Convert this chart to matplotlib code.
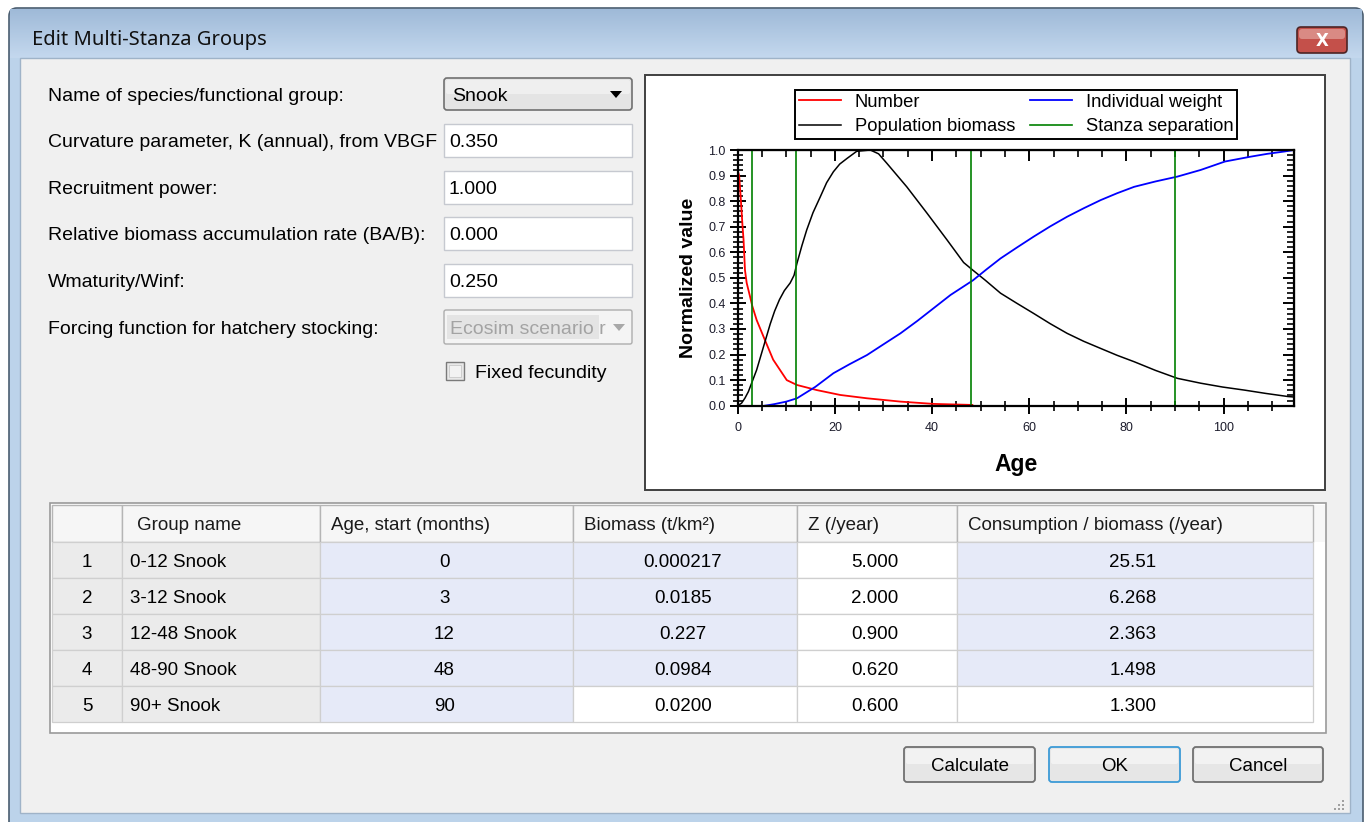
import numpy as np
import matplotlib
matplotlib.use("Agg")
import matplotlib.pyplot as plt
from matplotlib.patches import Rectangle, FancyBboxPatch, Polygon

plt.rcParams['font.family'] = ['Liberation Sans', 'DejaVu Sans']

# ---- form values ----
form_labels = ["Name of species/functional group:",
               "Curvature parameter, K (annual), from VBGF",
               "Recruitment power:",
               "Relative biomass accumulation rate (BA/B):",
               "Wmaturity/Winf:",
               "Forcing function for hatchery stocking:"]
form_values = ["Snook", "0.350", "1.000", "0.000", "0.250", "Ecosim scenario r"]

# ---- table ----
col_headers = ["", "Group name", "Age, start (months)", "Biomass (t/km²)",
               "Z (/year)", "Consumption / biomass (/year)"]
group_names = ["0-12 Snook", "3-12 Snook", "12-48 Snook", "48-90 Snook", "90+ Snook"]
age_start = [0, 3, 12, 48, 90]
biomass = ["0.000217", "0.0185", "0.227", "0.0984", "0.0200"]
z_year = ["5.000", "2.000", "0.900", "0.620", "0.600"]
qb_year = ["25.51", "6.268", "2.363", "1.498", "1.300"]

# ---- curves ----
number_age = [0, 0.3, 0.6, 1.0, 1.2, 1.5, 1.85, 2.5, 3.0, 3.9, 5.6, 7.3, 10.1,
              12.2, 16.3, 21.1, 26.6, 33.5, 40.3, 48.3]
number_val = [0.92, 0.90, 0.82, 0.70, 0.65, 0.53, 0.48, 0.43, 0.39, 0.335, 0.257,
              0.18, 0.10, 0.081, 0.061, 0.042, 0.029, 0.016, 0.007, 0.003]

pop_age = [0, 0.8, 1.5, 2.2, 3.0, 3.9, 5.3, 6.7, 7.6, 8.6, 9.6, 10.8, 11.6, 12.2,
           13.2, 14.2, 15.5, 17, 18.3, 19.7, 21, 22.5, 24.5, 27.3, 29, 30.7, 34.8,
           39, 43.1, 46.5, 48.4, 51, 54.1, 57.5, 60.9, 64.3, 67.8, 71.2, 74.7, 78.1,
           81.6, 86, 90.5, 95.3, 99.8, 104.3, 108.7, 113.2, 114.5]
pop_val = [0, 0.01, 0.03, 0.055, 0.095, 0.14, 0.23, 0.32, 0.37, 0.415, 0.45, 0.48,
           0.51, 0.557, 0.625, 0.687, 0.755, 0.817, 0.872, 0.915, 0.945, 0.967, 0.995,
           1.0, 0.985, 0.948, 0.856, 0.752, 0.648, 0.56, 0.53, 0.49, 0.44, 0.40, 0.361,
           0.321, 0.283, 0.252, 0.224, 0.197, 0.172, 0.138, 0.107, 0.088, 0.073, 0.061,
           0.048, 0.036, 0.034]

weight_age = [5.6, 7.5, 10, 12.2, 16, 19.7, 23, 26.6, 30, 33.5, 37, 40.3, 43.8, 48.4,
              51.2, 54.1, 57.5, 60.9, 64.3, 67.8, 71.2, 74.7, 78.1, 81.6, 86, 90.5,
              95.3, 100.3, 105.6, 109, 112.5, 114.5]
weight_val = [0, 0.006, 0.016, 0.029, 0.074, 0.127, 0.162, 0.198, 0.24, 0.283, 0.332,
              0.381, 0.433, 0.49, 0.533, 0.576, 0.619, 0.661, 0.701, 0.739, 0.772,
              0.804, 0.831, 0.856, 0.877, 0.896, 0.922, 0.955, 0.974, 0.985, 0.994, 1.0]

W, H = 1368, 822
fig = plt.figure(figsize=(W / 100, H / 100), dpi=100)
fig.patch.set_facecolor("white")
bg = fig.add_axes([0, 0, 1, 1])
bg.set_xlim(0, W)
bg.set_ylim(H, 0)
bg.axis("off")


def rect(x0, y0, x1, y1, fc, ec="none", lw=1.0, z=1, rounded=0):
    if rounded:
        p = FancyBboxPatch((x0, y0), x1 - x0, y1 - y0,
                           boxstyle="round,pad=0,rounding_size=%g" % rounded,
                           fc=fc, ec=ec, lw=lw, zorder=z)
    else:
        p = Rectangle((x0, y0), x1 - x0, y1 - y0, fc=fc, ec=ec, lw=lw, zorder=z)
    bg.add_patch(p)
    return p


def label(x, y, s, size=14, ha="left", color="black", **kw):
    # y is the middle of the capital letters (pixels); size in points
    bg.text(x, y + size * 0.5, s, fontsize=size, ha=ha, va="baseline", color=color,
            zorder=10, **kw)


# window frame
rect(9, 8, 1363, 830, "#bcd3ea", "#4a5d70", 1.2, z=0, rounded=8)
grad = np.linspace(0, 1, 50).reshape(-1, 1)
title_cmap = matplotlib.colors.LinearSegmentedColormap.from_list("t", ["#9fbad8", "#c4d8ee"])
bg.imshow(grad, extent=(10, 1362, 58, 9), cmap=title_cmap, aspect="auto", zorder=0.5)
rect(20, 58, 1350, 813, "#f0f0f0", "#9fb3c8", 1, z=1)
bg.text(32, 40, "Edit Multi-Stanza Groups", fontsize=14.5, ha="left", va="center",
        family=["Noto Sans", "DejaVu Sans"], color="#101010", zorder=10)

# close button
rect(1297, 27, 1347, 53, "#c4504a", "#4d2424", 1.2, z=2, rounded=4)
rect(1299, 29, 1345, 39, "#d98a84", "none", z=2.1, rounded=3)
bg.text(1322, 40.5, "X", fontsize=12, fontweight="bold", ha="center", va="center",
        color="white", zorder=10, family="DejaVu Sans")

# form fields
row_y = [94, 140, 187, 233, 280, 327]
for i, (lab, val) in enumerate(zip(form_labels, form_values)):
    y = row_y[i]
    label(48, y, lab)
    if i == 0:
        rect(444, y - 16, 632, y + 16, "#e4e4e4", "#707070", 1.2, z=2, rounded=3)
        rect(446, y - 14, 630, y, "#efefef", "none", z=2.1, rounded=2)
        label(452, y, val)
        bg.add_patch(Polygon([[610, y - 3], [622, y - 3], [616, y + 4]], closed=True,
                             fc="black", ec="none", zorder=10))
    elif i == 5:
        rect(444, y - 17, 632, y + 17, "#f4f4f4", "#adadad", 1.0, z=2, rounded=2)
        rect(447, y - 12, 599, y + 12, "#e4e4e4", "none", z=2.1)
        label(450, y, val, color="#a3a3a3")
        bg.add_patch(Polygon([[613, y - 3], [625, y - 3], [619, y + 4]], closed=True,
                             fc="#a8a8a8", ec="none", zorder=10))
    else:
        rect(444, y - 16, 632, y + 17, "white", "#c6c9d0", 1.0, z=2)
        label(449, y, val)

# checkbox
rect(446, 362, 464, 380, "#e8e8e8", "#7a7a7a", 1.0, z=2)
rect(449, 365, 461, 377, "#f2f2f2", "#c8c8c8", 0.6, z=2.1)
label(475, 371, "Fixed fecundity")

# chart panel
rect(645, 75, 1325, 490, "white", "#404040", 1.4, z=2)

# table
col_x = [52, 122, 320, 573, 797, 957, 1313]
hdr_y0, hdr_y1 = 505, 542
row_h = 36
rect(50, 503, 1326, 733, "white", "#9a9a9a", 1.2, z=2)
rect(51, hdr_y0, 1325, hdr_y1, "#f7f7f7", "none", z=2.1)
lavender = "#e6eaf8"
cell_colors = {2: [lavender] * 5, 3: [lavender] * 4 + ["white"], 4: ["white"] * 5,
               5: [lavender] * 4 + ["white"]}
for c in range(6):
    x0, x1 = col_x[c], col_x[c + 1]
    rect(x0, hdr_y0, x1, hdr_y1, "#f6f6f6", "#b5b5b5", 1.0, z=3)
    if col_headers[c]:
        label(x0 + 11 if c > 1 else x0 + 15, (hdr_y0 + hdr_y1) / 2, col_headers[c],
              size=13.5, color="#1a1a1a")
    for r in range(5):
        y0 = hdr_y1 + r * row_h
        fc = "#ebebeb" if c < 2 else cell_colors[c][r]
        rect(x0, y0, x1, y0 + row_h, fc, "#cfcfcf", 0.9, z=3)

cols_text = [[str(i + 1) for i in range(5)], group_names, [str(a) for a in age_start],
             biomass, z_year, qb_year]
for c, vals in enumerate(cols_text):
    for r, v in enumerate(vals):
        yc = hdr_y1 + r * row_h + row_h / 2
        if c == 1:
            label(col_x[c] + 8, yc, v, size=13.5)
        elif c == 0:
            label((col_x[0] + col_x[1]) / 2, yc, v, size=13.5, ha="center")
        else:
            xc = (col_x[c] + col_x[c + 1]) / 2 - 2
            label(xc, yc, v, size=13.5, ha="center")

# buttons
buttons = [("Calculate", 904, 1035, "#707070"), ("OK", 1049, 1180, "#3c9ad6"),
           ("Cancel", 1193, 1323, "#707070")]
for txt, x0, x1, ec in buttons:
    rect(x0, 747, x1, 782, "#e6e6e6", ec, 1.3, z=2, rounded=3)
    rect(x0 + 2, 749, x1 - 2, 764, "#f2f2f2", "none", z=2.1, rounded=2)
    label((x0 + x1) / 2, 764, txt, size=13.5, ha="center")

# resize grip
for gx, gy in [(1342, 808), (1338, 808), (1334, 808), (1342, 804), (1338, 804), (1342, 800)]:
    rect(gx, gy, gx + 1.6, gy + 1.6, "#a0a0a0", z=3)

# ---- the chart ----
ax = fig.add_axes([737.7 / W, 1 - 405.7 / H, (1294 - 737.7) / W, (405.7 - 150) / H], zorder=5)
ax.set_facecolor("white")
h_num, = ax.plot(number_age, number_val, color="#ff0000", lw=1.3)
h_pop, = ax.plot(pop_age, pop_val, color="black", lw=1.1)
h_w, = ax.plot(weight_age, weight_val, color="#0000ff", lw=1.3)
h_st = None
for a in age_start[1:]:
    h_st = ax.axvline(a, color="#008000", lw=1.2)
ax.set_xlim(0, 114.5)
ax.set_ylim(0, 1.0)
ax.set_xticks([0, 20, 40, 60, 80, 100])
ax.set_xticks(np.arange(0, 115, 5), minor=True)
ax.set_yticks(np.round(np.arange(0, 1.01, 0.1), 1))
ax.set_yticks(np.arange(0, 1.001, 0.02), minor=True)
ax.set_yticklabels(["%.1f" % v for v in np.arange(0, 1.01, 0.1)])
for s in ax.spines.values():
    s.set_linewidth(1.6)
ax.tick_params(which="major", direction="inout", length=11, width=1.4, labelsize=9,
               labelcolor="#1c1c2c", pad=3)
ax.tick_params(which="minor", direction="inout", length=7, width=1.2)
ax.tick_params(axis="x", pad=6)

top = ax.secondary_xaxis("top")
top.set_xticks([0, 20, 40, 60, 80, 100])
top.set_xticks(np.arange(0, 115, 5), minor=True)
top.tick_params(which="major", direction="in", length=8, width=1.4, labeltop=False)
top.tick_params(which="minor", direction="in", length=5, width=1.2)
right = ax.secondary_yaxis("right")
right.set_yticks(np.arange(0, 1.01, 0.1))
right.set_yticks(np.arange(0, 1.001, 0.02), minor=True)
right.tick_params(which="major", direction="in", length=8, width=1.4, labelright=False)
right.tick_params(which="minor", direction="in", length=5, width=1.2)

ax.set_ylabel("Normalized value", fontsize=14, fontweight="bold", labelpad=8)
ax.set_xlabel("Age", fontsize=16.5, fontweight="bold", labelpad=14)

leg = ax.legend([h_num, h_pop, h_w, h_st],
                ["Number", "Population biomass", "Individual weight", "Stanza separation"],
                ncol=2, loc="center", bbox_to_anchor=(1016 / W, 1 - 114.5 / H),
                bbox_transform=fig.transFigure, fontsize=13.2, frameon=True,
                fancybox=False, framealpha=1, edgecolor="black", handlelength=2.3,
                handletextpad=0.75, columnspacing=0.8, borderpad=0.22, labelspacing=0.42)
leg.get_frame().set_linewidth(1.4)

fig.savefig("out.png", dpi=100)
